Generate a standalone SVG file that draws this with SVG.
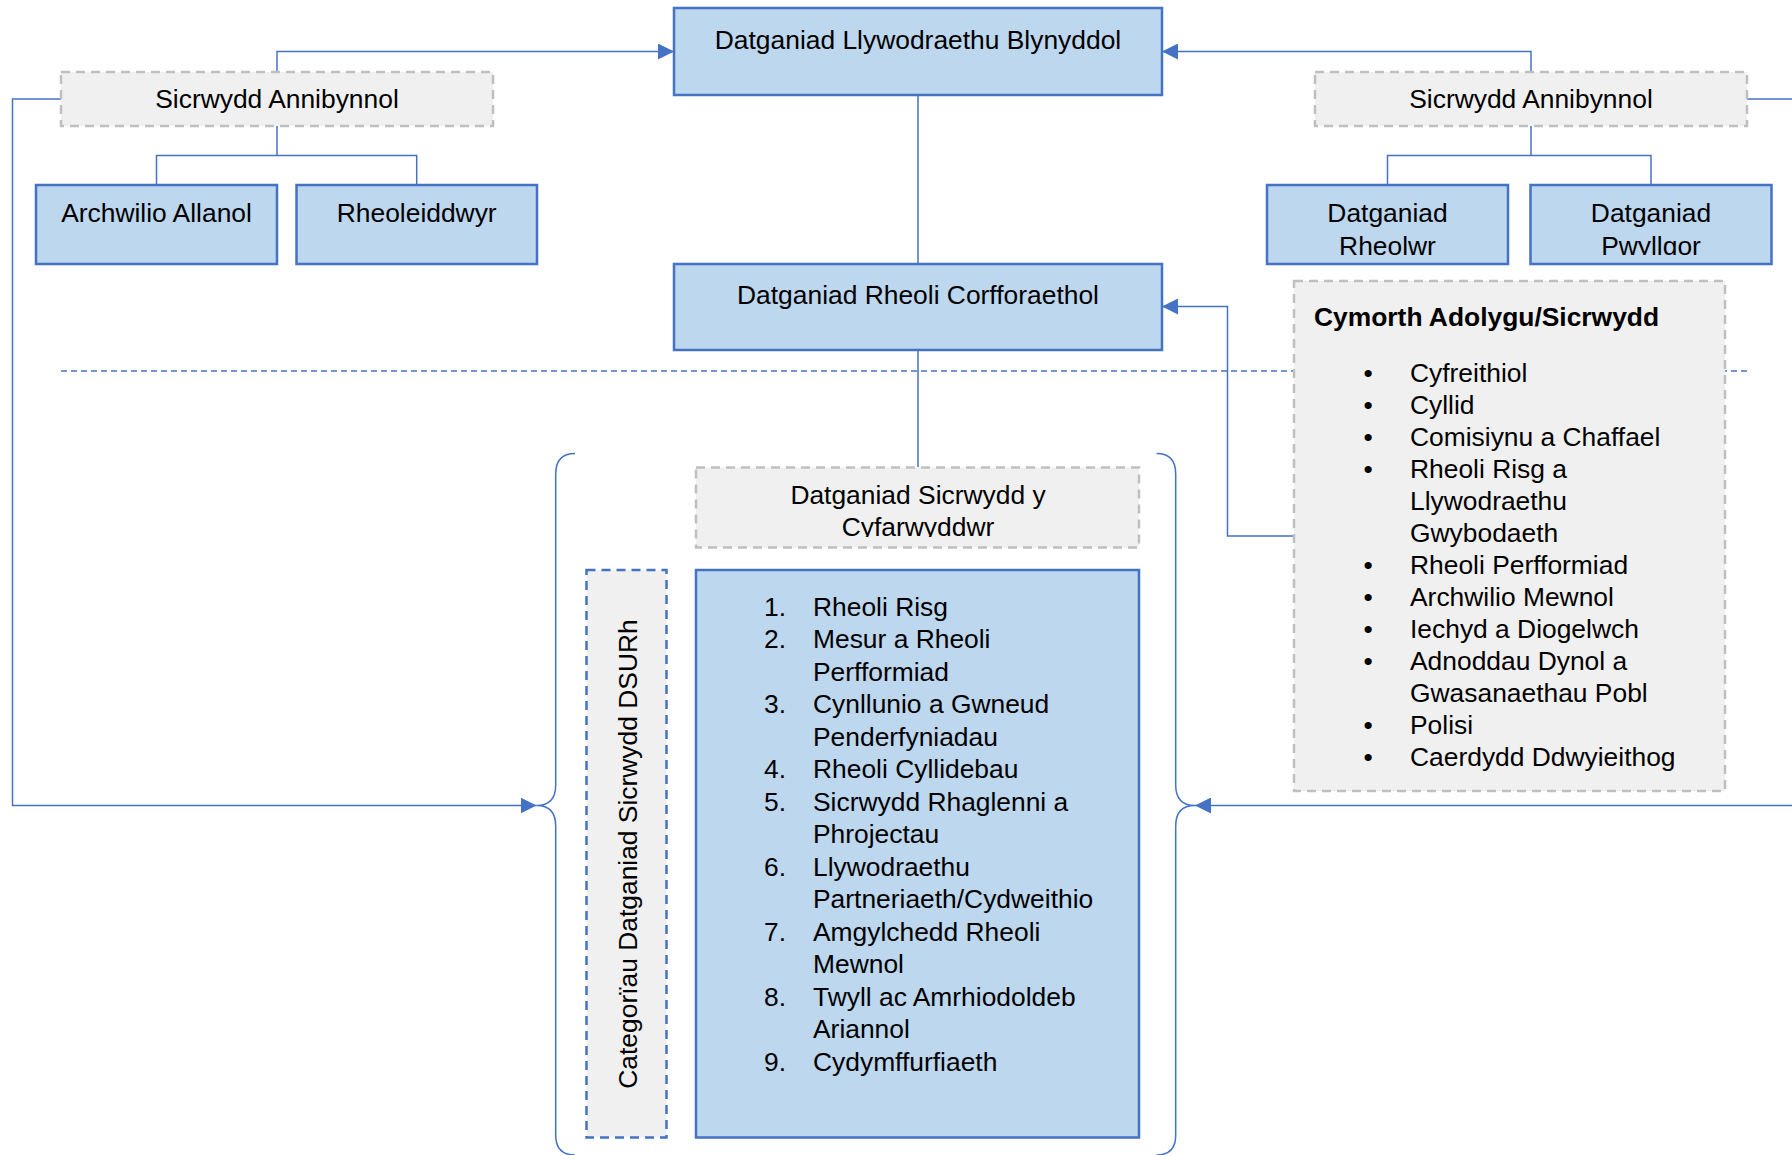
<svg xmlns="http://www.w3.org/2000/svg" width="1792" height="1155" viewBox="0 0 1792 1155">
<style>
text{font-family:"Liberation Sans",Arial,sans-serif;font-size:26.4px;fill:#000}
.mid{text-anchor:middle}
.bold{font-weight:bold}
.blue{fill:#BDD7EE;stroke:#4472C4;stroke-width:2.5}
.gray{fill:#F0F0F0;stroke:#BFBFBF;stroke-width:2.5;stroke-dasharray:9 6}
.bdash{fill:#F0F0F0;stroke:#4472C4;stroke-width:2.5;stroke-dasharray:9 6}
.con{fill:none;stroke:#4472C4;stroke-width:1.5}
.sep{fill:none;stroke:#4472C4;stroke-width:1.3;stroke-dasharray:6 4}
</style>
<defs>
<marker id="arr" markerUnits="userSpaceOnUse" markerWidth="16" markerHeight="16" refX="16" refY="8" orient="auto">
<path d="M0,0 L16,8 L0,16 z" fill="#4472C4"/>
</marker>
<clipPath id="clipR1"><rect x="1267" y="185" width="241" height="70"/></clipPath>
<clipPath id="clipR2"><rect x="1530" y="185" width="242" height="70"/></clipPath>
<clipPath id="clipC"><rect x="696" y="467" width="443" height="70"/></clipPath>
</defs>
<rect width="1792" height="1155" fill="#fff"/>

<g id="separator">
<line class="sep" x1="61" y1="371" x2="1748" y2="371"/>
</g>

<g id="connectors">
<path class="con" d="M277,72 V51.5 H674" marker-end="url(#arr)"/>
<path class="con" d="M1531,72 V51.5 H1162" marker-end="url(#arr)"/>
<path class="con" d="M277,126 V155.5 M156.5,185 V155.5 H416.7 V185"/>
<path class="con" d="M1531,126 V155.5 M1387.5,185 V155.5 H1651 V185"/>
<path class="con" d="M918,95 V264 M918,350 V467"/>
<path class="con" d="M1294,536 H1227.5 V306.5 H1162" marker-end="url(#arr)"/>
<path class="con" d="M61,99 H12.5 V805.5 H536.5" marker-end="url(#arr)"/>
<path class="con" d="M1747,99 H1800 M1800,805.5 H1195" marker-end="url(#arr)"/>
</g>

<g id="braces">
<path class="con" d="M575,453.5 Q555.7,453.5 555.7,474 V785 Q555.7,805.5 536.5,805.5 Q555.7,805.5 555.7,826 V1135 Q555.7,1155 575,1155"/>
<path class="con" d="M1156.6,453.5 Q1175.7,453.5 1175.7,474 V785 Q1175.7,805.5 1195,805.5 Q1175.7,805.5 1175.7,826 V1135 Q1175.7,1155 1156.6,1155"/>
</g>

<g id="n-blynyddol">
<rect class="blue" x="674" y="8" width="488" height="87"/>
<text class="mid" x="918" y="49">Datganiad Llywodraethu Blynyddol</text>
</g>

<g id="n-annibynnol-chwith">
<rect class="gray" x="61" y="72" width="432" height="54"/>
<text class="mid" x="277" y="108">Sicrwydd Annibynnol</text>
</g>

<g id="n-annibynnol-dde">
<rect class="gray" x="1315" y="72" width="432" height="54"/>
<text class="mid" x="1531" y="108">Sicrwydd Annibynnol</text>
</g>

<g id="n-archwilio">
<rect class="blue" x="36" y="185" width="241" height="79"/>
<text class="mid" x="156.5" y="222">Archwilio Allanol</text>
</g>

<g id="n-rheoleiddwyr">
<rect class="blue" x="296.5" y="185" width="240.5" height="79"/>
<text class="mid" x="416.7" y="222">Rheoleiddwyr</text>
</g>

<g id="n-rheolwr">
<rect class="blue" x="1267" y="185" width="241" height="79"/>
<text class="mid" x="1387.5" y="222" clip-path="url(#clipR1)"><tspan x="1387.5">Datganiad</tspan><tspan x="1387.5" dy="32.5">Rheolwr</tspan></text>
</g>

<g id="n-pwyllgor">
<rect class="blue" x="1530.5" y="185" width="241" height="79"/>
<text class="mid" x="1651" y="222" clip-path="url(#clipR2)"><tspan x="1651">Datganiad</tspan><tspan x="1651" dy="32.5">Pwyllgor</tspan></text>
</g>

<g id="n-corfforaethol">
<rect class="blue" x="674" y="264" width="488" height="86"/>
<text class="mid" x="918" y="304">Datganiad Rheoli Corfforaethol</text>
</g>

<g id="n-cymorth">
<rect class="gray" x="1294" y="281" width="431" height="510"/>
<text class="bold" x="1314" y="326">Cymorth Adolygu/Sicrwydd</text>
<text class="mid" x="1368" y="381.5">•</text>
<text class="mid" x="1368" y="413.5">•</text>
<text class="mid" x="1368" y="445.5">•</text>
<text class="mid" x="1368" y="477.5">•</text>
<text class="mid" x="1368" y="573.5">•</text>
<text class="mid" x="1368" y="605.5">•</text>
<text class="mid" x="1368" y="637.5">•</text>
<text class="mid" x="1368" y="669.5">•</text>
<text class="mid" x="1368" y="733.5">•</text>
<text class="mid" x="1368" y="765.5">•</text>
<text x="1410" y="381.5"><tspan x="1410">Cyfreithiol</tspan><tspan x="1410" dy="32">Cyllid</tspan><tspan x="1410" dy="32">Comisiynu a Chaffael</tspan><tspan x="1410" dy="32">Rheoli Risg a</tspan><tspan x="1410" dy="32">Llywodraethu</tspan><tspan x="1410" dy="32">Gwybodaeth</tspan><tspan x="1410" dy="32">Rheoli Perfformiad</tspan><tspan x="1410" dy="32">Archwilio Mewnol</tspan><tspan x="1410" dy="32">Iechyd a Diogelwch</tspan><tspan x="1410" dy="32">Adnoddau Dynol a</tspan><tspan x="1410" dy="32">Gwasanaethau Pobl</tspan><tspan x="1410" dy="32">Polisi</tspan><tspan x="1410" dy="32">Caerdydd Ddwyieithog</tspan></text>
</g>

<g id="n-cyfarwyddwr">
<rect class="gray" x="696" y="467.5" width="443" height="80"/>
<text class="mid" x="918" y="504" clip-path="url(#clipC)"><tspan x="918">Datganiad Sicrwydd y</tspan><tspan x="918" dy="32">Cyfarwyddwr</tspan></text>
</g>

<g id="n-categoriau">
<rect class="bdash" x="586.5" y="570" width="80" height="567.5"/>
<text class="mid" transform="translate(637,854) rotate(-90)" x="0" y="0">Categorïau Datganiad Sicrwydd DSURh</text>
</g>

<g id="n-rhestr">
<rect class="blue" x="696" y="570" width="443" height="567.5"/>
<text x="764" y="615.7"><tspan x="764">1.</tspan><tspan x="764" dy="32.5">2.</tspan><tspan x="764" dy="65">3.</tspan><tspan x="764" dy="65">4.</tspan><tspan x="764" dy="32.5">5.</tspan><tspan x="764" dy="65">6.</tspan><tspan x="764" dy="65">7.</tspan><tspan x="764" dy="65">8.</tspan><tspan x="764" dy="65">9.</tspan></text>
<text x="813" y="615.7"><tspan x="813">Rheoli Risg</tspan><tspan x="813" dy="32.5">Mesur a Rheoli</tspan><tspan x="813" dy="32.5">Perfformiad</tspan><tspan x="813" dy="32.5">Cynllunio a Gwneud</tspan><tspan x="813" dy="32.5">Penderfyniadau</tspan><tspan x="813" dy="32.5">Rheoli Cyllidebau</tspan><tspan x="813" dy="32.5">Sicrwydd Rhaglenni a</tspan><tspan x="813" dy="32.5">Phrojectau</tspan><tspan x="813" dy="32.5">Llywodraethu</tspan><tspan x="813" dy="32.5">Partneriaeth/Cydweithio</tspan><tspan x="813" dy="32.5">Amgylchedd Rheoli</tspan><tspan x="813" dy="32.5">Mewnol</tspan><tspan x="813" dy="32.5">Twyll ac Amrhiodoldeb</tspan><tspan x="813" dy="32.5">Ariannol</tspan><tspan x="813" dy="32.5">Cydymffurfiaeth</tspan></text>
</g>
</svg>
